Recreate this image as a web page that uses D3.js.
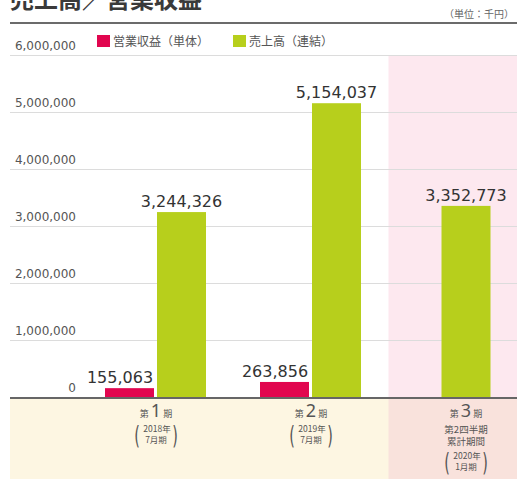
<!DOCTYPE html>
<html><head><meta charset="utf-8">
<script src="https://cdn.jsdelivr.net/npm/d3@7/dist/d3.min.js"></script>
<style>
html,body{margin:0;padding:0;background:#fff;}
svg{display:block;font-family:"Noto Sans CJK JP","Noto Sans",sans-serif;}
</style></head>
<body>
<svg id="chart" width="517" height="479"></svg>
<script>
const periods = ["第1期", "第2期", "第3期"];
const periodNums = ["1", "2", "3"];
const periodSubLines = [[], [], ["第2四半期", "累計期間"]];
const periodYearLines = [["2018年", "7月期"], ["2019年", "7月期"], ["2020年", "1月期"]];
const operatingIncome = [155063, 263856, null];
const netSales = [3244326, 5154037, 3352773];
const yTicks = [0, 1000000, 2000000, 3000000, 4000000, 5000000, 6000000];
const seriesNames = ["営業収益（単体）", "売上高（連結）"];
const seriesColors = ["#e1064f", "#b7cf1c"];
const titleText = "売上高／営業収益";
const unitText = "（単位：千円）";

const svg = d3.select("#chart");
const W = 517, H = 479;
const left = 10, axisY = 397;
const NUMFONT = "'DejaVu Sans', sans-serif";

const y = d3.scaleLinear().domain([0, 6000000]).range([axisY, 55]);
const x = d3.scalePoint().domain(periods).range([156, 466]);
const step = x.step();
const fmt = d3.format(",");

// backgrounds
const p3 = x(periods[2]) - step / 2;
svg.append("rect").attr("x", p3).attr("y", y(6000000)).attr("width", W - p3).attr("height", axisY - y(6000000)).attr("fill", "#fde8ef");
svg.append("rect").attr("x", left).attr("y", axisY).attr("width", W - left).attr("height", H - axisY).attr("fill", "#fdf6e2");
svg.append("rect").attr("x", p3).attr("y", axisY).attr("width", W - p3).attr("height", H - axisY).attr("fill", "#f9e2dc");

// title
svg.append("text").attr("x", left).attr("y", 8).attr("font-size", 24).attr("font-weight", 700).attr("fill", "#3a3a3a").text(titleText);
svg.append("line").attr("x1", left).attr("x2", W).attr("y1", 23).attr("y2", 23).attr("stroke", "#6b6b6b").attr("stroke-width", 2);
svg.append("text").attr("x", 514).attr("y", 18).attr("text-anchor", "end").attr("font-size", 10).attr("fill", "#666").text(unitText);

// gridlines + labels
const grid = svg.append("g");
grid.selectAll("line").data(yTicks.filter(d => d > 0)).join("line")
  .attr("x1", left).attr("x2", W)
  .attr("y1", d => Math.round(y(d)) + 0.5).attr("y2", d => Math.round(y(d)) + 0.5)
  .attr("stroke", "#dcdcdc").attr("stroke-width", 1);
grid.selectAll("text").data(yTicks).join("text")
  .attr("x", 76).attr("y", d => y(d) - 5)
  .attr("text-anchor", "end").attr("font-size", 12)
  .style("font-family", NUMFONT)
  .attr("fill", "#555").text(d => fmt(d));

// legend
const lg = svg.append("g");
const legX = [97, 233];
seriesNames.forEach((n, i) => {
  lg.append("rect").attr("x", legX[i]).attr("y", 35).attr("width", 13).attr("height", 12).attr("fill", seriesColors[i]);
  lg.append("text").attr("x", legX[i] + 16).attr("y", 46).attr("font-size", 12).attr("fill", "#555").text(n);
});

// bars
const bw = 49;
const bars = svg.append("g");
periods.forEach((p, i) => {
  const c = x(p);
  const hasRed = operatingIncome[i] != null;
  if (hasRed) {
    const v = operatingIncome[i];
    bars.append("rect").attr("x", c - 51).attr("y", y(v)).attr("width", bw).attr("height", axisY - y(v)).attr("fill", seriesColors[0]);
    bars.append("text").attr("x", c - 36).attr("y", y(v) - 5).attr("text-anchor", "middle")
      .attr("font-size", 16).style("font-family", NUMFONT).attr("fill", "#333").text(fmt(v));
  }
  const v2 = netSales[i];
  const gx = hasRed ? c + 1 : c - bw / 2;
  bars.append("rect").attr("x", gx).attr("y", y(v2)).attr("width", bw).attr("height", axisY - y(v2)).attr("fill", seriesColors[1]);
  bars.append("text").attr("x", gx + bw / 2).attr("y", y(v2) - 5).attr("text-anchor", "middle")
    .attr("font-size", 16).style("font-family", NUMFONT).attr("fill", "#333").text(fmt(v2));
});

// axis line
svg.append("line").attr("x1", left).attr("x2", W).attr("y1", axisY + 1).attr("y2", axisY + 1).attr("stroke", "#666").attr("stroke-width", 2);

// category labels
const cat = svg.append("g").attr("fill", "#555");
periods.forEach((p, i) => {
  const c = x(p);
  const t = cat.append("text").attr("x", c).attr("y", 417).attr("text-anchor", "middle");
  t.append("tspan").attr("font-size", 9).text("第 ");
  t.append("tspan").attr("font-size", 18).style("font-family", "'Noto Sans', sans-serif").text(periodNums[i]);
  t.append("tspan").attr("font-size", 9).text(" 期");
  let yy = 420;
  periodSubLines[i].forEach(s => {
    yy += 12.5;
    cat.append("text").attr("x", c).attr("y", yy).attr("text-anchor", "middle").attr("font-size", 9.5).text(s);
  });
  if (i < 2) yy = 418;
  const y1 = yy + 14, y2 = yy + 25;
  cat.append("text").attr("x", c + 1).attr("y", y1).attr("text-anchor", "middle").attr("font-size", 8.5).text(periodYearLines[i][0]);
  cat.append("text").attr("x", c).attr("y", y2).attr("text-anchor", "middle").attr("font-size", 8.5).text(periodYearLines[i][1]);
  [["(", c - 19], [")", c + 19]].forEach(([ch, px]) => {
    cat.append("text").attr("x", px).attr("y", y2 + 1).attr("text-anchor", "middle")
      .attr("font-size", 24).style("font-family", NUMFONT)
      .attr("transform", `translate(${px},${y2}) scale(0.6,1) translate(${-px},${-y2})`).text(ch);
  });
});
</script>
</body></html>
